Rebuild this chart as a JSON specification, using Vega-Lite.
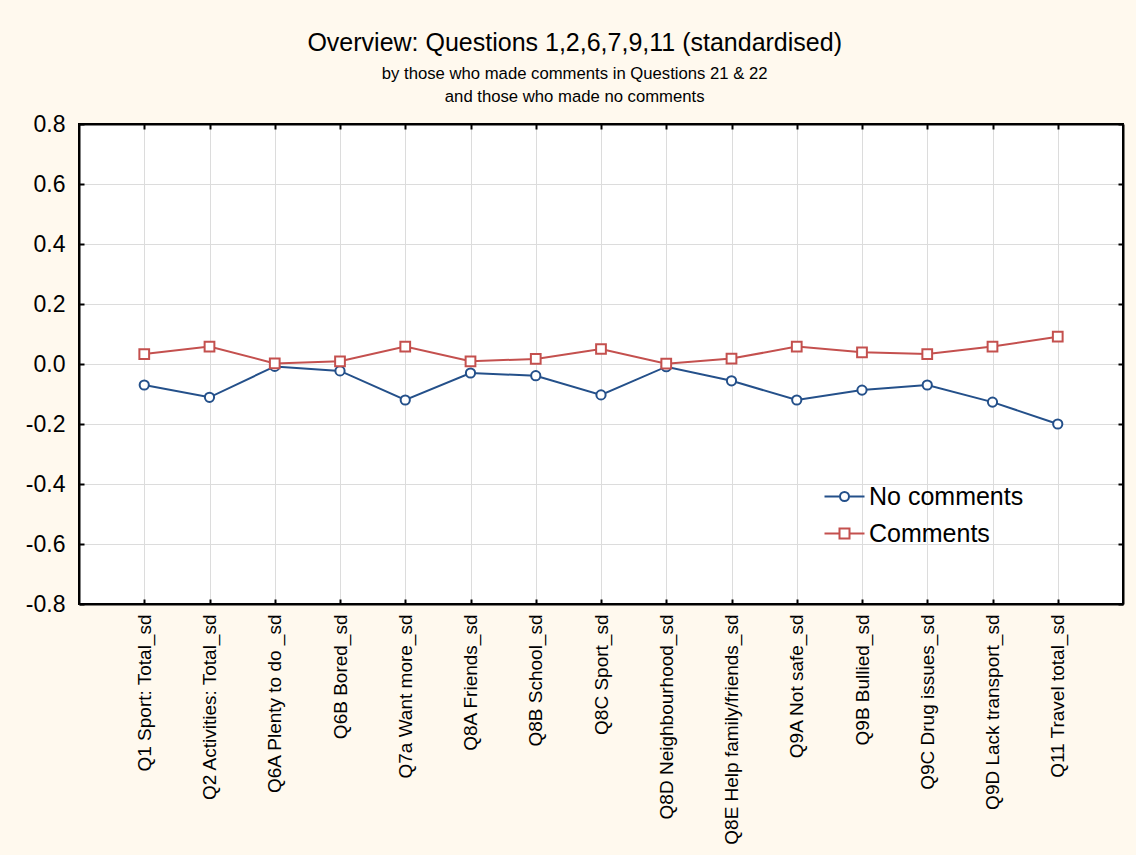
{
  "$schema": "https://vega.github.io/schema/vega-lite/v6.json",
  "width": 1044,
  "height": 480,
  "autosize": {"type": "none"},
  "padding": {"left": 79, "top": 124, "right": 13, "bottom": 251},
  "background": "#FFF9EE",
  "config": {
    "font": "Liberation Sans",
    "view": {"fill": "white", "stroke": "black", "strokeWidth": 2},
    "axis": {"labelColor": "black", "labelFont": "Liberation Sans"}
  },
  "title": {
    "text": "Overview: Questions 1,2,6,7,9,11 (standardised)",
    "subtitle": ["by those who made comments in Questions 21 & 22", "and those who made no comments"],
    "fontSize": 25,
    "fontWeight": "normal",
    "color": "black",
    "subtitleFontSize": 16.7,
    "subtitleColor": "black",
    "subtitleLineHeight": 23,
    "subtitlePadding": 10,
    "offset": 7,
    "anchor": "middle",
    "frame": "bounds"
  },
  "data": {"values": [
    {"q": "Q1 Sport: Total_sd", "group": "No comments", "v": -0.070},
    {"q": "Q2 Activities: Total_sd", "group": "No comments", "v": -0.111},
    {"q": "Q6A Plenty to do _sd", "group": "No comments", "v": -0.008},
    {"q": "Q6B Bored_sd", "group": "No comments", "v": -0.023},
    {"q": "Q7a Want more_sd", "group": "No comments", "v": -0.120},
    {"q": "Q8A Friends_sd", "group": "No comments", "v": -0.030},
    {"q": "Q8B School_sd", "group": "No comments", "v": -0.039},
    {"q": "Q8C Sport_sd", "group": "No comments", "v": -0.103},
    {"q": "Q8D  Neighbourhood_sd", "group": "No comments", "v": -0.009},
    {"q": "Q8E Help family/friends_sd", "group": "No comments", "v": -0.056},
    {"q": "Q9A Not safe_sd", "group": "No comments", "v": -0.120},
    {"q": "Q9B Bullied_sd", "group": "No comments", "v": -0.087},
    {"q": "Q9C Drug issues_sd", "group": "No comments", "v": -0.070},
    {"q": "Q9D Lack transport_sd", "group": "No comments", "v": -0.127},
    {"q": "Q11 Travel total_sd", "group": "No comments", "v": -0.200},
    {"q": "Q1 Sport: Total_sd", "group": "Comments", "v": 0.033},
    {"q": "Q2 Activities: Total_sd", "group": "Comments", "v": 0.058},
    {"q": "Q6A Plenty to do _sd", "group": "Comments", "v": 0.002},
    {"q": "Q6B Bored_sd", "group": "Comments", "v": 0.009},
    {"q": "Q7a Want more_sd", "group": "Comments", "v": 0.058},
    {"q": "Q8A Friends_sd", "group": "Comments", "v": 0.009},
    {"q": "Q8B School_sd", "group": "Comments", "v": 0.017},
    {"q": "Q8C Sport_sd", "group": "Comments", "v": 0.050},
    {"q": "Q8D  Neighbourhood_sd", "group": "Comments", "v": 0.001},
    {"q": "Q8E Help family/friends_sd", "group": "Comments", "v": 0.018},
    {"q": "Q9A Not safe_sd", "group": "Comments", "v": 0.058},
    {"q": "Q9B Bullied_sd", "group": "Comments", "v": 0.039},
    {"q": "Q9C Drug issues_sd", "group": "Comments", "v": 0.033},
    {"q": "Q9D Lack transport_sd", "group": "Comments", "v": 0.058},
    {"q": "Q11 Travel total_sd", "group": "Comments", "v": 0.091}
  ]},
  "layer": [
    {
      "mark": {"type": "line", "strokeWidth": 2},
      "encoding": {
        "x": {"field": "q", "type": "nominal", "sort": null,
          "scale": {"type": "point", "padding": 1},
          "axis": {"orient": "bottom", "title": null, "labelAngle": 270, "labelFontSize": 19, "labelLimit": 0,
            "labelPadding": 15, "tickSize": -5, "tickColor": "black", "tickWidth": 2,
            "grid": true, "gridColor": "#DCDCDC", "gridWidth": 1,
            "domain": true, "domainColor": "black", "domainWidth": 2}},
        "y": {"field": "v", "type": "quantitative",
          "scale": {"domain": [-0.8, 0.8], "nice": false, "zero": false},
          "axis": {"orient": "left", "title": null, "values": [-0.8, -0.6, -0.4, -0.2, 0, 0.2, 0.4, 0.6, 0.8],
            "format": ".1f", "labelExpr": "replace(datum.label, '−', '-')",
            "labelFontSize": 23, "labelPadding": 19, "tickSize": -5, "tickColor": "black", "tickWidth": 2,
            "grid": true, "gridColor": "#DCDCDC", "gridWidth": 1,
            "domain": true, "domainColor": "black", "domainWidth": 2}},
        "color": {"field": "group", "type": "nominal",
          "scale": {"domain": ["No comments", "Comments"], "range": ["#24508A", "#C4504E"]},
          "legend": {
            "title": null, "orient": "none", "legendX": 753, "legendY": 360,
            "padding": 0, "labelFontSize": 25, "labelColor": "black", "labelFont": "Liberation Sans",
            "symbolSize": 400, "symbolStrokeWidth": 2, "labelOffset": 12, "rowPadding": 11,
            "symbolFillColor": "white",
            "encode": {"symbols": {"update": {
              "shape": {"signal": "datum.value === 'Comments' ? 'M-2,0H-0.5M0.5,0H2M-0.5,-0.5H0.5V0.5H-0.5Z' : 'M-2,0H-0.45M0.45,0H2M0.45,0A0.45,0.45,0,1,1,-0.45,0A0.45,0.45,0,1,1,0.45,0Z'"},
              "fill": {"value": "white"},
              "strokeWidth": {"value": 2}
            }}}
          }}
      }
    },
    {
      "transform": [{"filter": "datum.group === 'No comments'"}],
      "mark": {"type": "point", "shape": "circle", "filled": false, "fill": "white", "strokeWidth": 2, "opacity": 1, "size": 85},
      "encoding": {
        "x": {"field": "q", "type": "nominal", "sort": null,
          "scale": {"type": "point", "padding": 1},
          "axis": {"orient": "top", "title": null, "labels": false, "tickSize": -5, "tickColor": "black", "tickWidth": 2,
            "grid": false, "domain": true, "domainColor": "black", "domainWidth": 2}},
        "y": {"field": "v", "type": "quantitative",
          "scale": {"domain": [-0.8, 0.8], "nice": false, "zero": false},
          "axis": {"orient": "right", "title": null, "labels": false, "values": [-0.8, -0.6, -0.4, -0.2, 0, 0.2, 0.4, 0.6, 0.8],
            "tickSize": -5, "tickColor": "black", "tickWidth": 2,
            "grid": false, "domain": true, "domainColor": "black", "domainWidth": 2}},
        "color": {"field": "group", "type": "nominal"}
      }
    },
    {
      "transform": [{"filter": "datum.group === 'Comments'"}],
      "mark": {"type": "point", "shape": "square", "filled": false, "fill": "white", "strokeWidth": 2, "opacity": 1, "size": 95},
      "encoding": {
        "x": {"field": "q", "type": "nominal", "sort": null, "axis": null},
        "y": {"field": "v", "type": "quantitative", "axis": null},
        "color": {"field": "group", "type": "nominal"}
      }
    }
  ],
  "resolve": {"axis": {"x": "independent", "y": "independent"}}
}
